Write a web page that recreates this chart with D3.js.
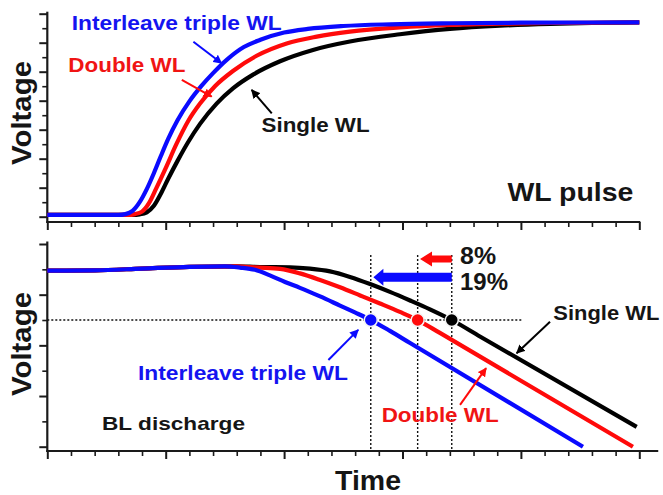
<!DOCTYPE html>
<html><head><meta charset="utf-8">
<script src="https://cdn.jsdelivr.net/npm/d3@7"></script>
<style>
html,body{margin:0;padding:0;background:#fff;}
svg{display:block;}
text{font-family:"Liberation Sans",Arial,Helvetica,sans-serif;font-weight:bold;}
</style></head><body>
<svg id="chart" width="663" height="495"></svg>
<script>
// ---------------- DATA (time in tick units, voltage in tick units) ----------------
const xTickValues = d3.range(0, 26);
const topYTickValues = d3.range(0, 15);
const botYTickValues = d3.range(0, 9);

const seriesNames = ["Single WL", "Double WL", "Interleave triple WL"];

// WL pulse (top panel)
const pulseSingle = [[0,0.12],[3.6,0.12],[3.9,0.16],[4.2,0.3],[4.5,0.75],[4.8,1.6],[5.1,2.6],[5.5,3.85],[5.95,5.15],[6.45,6.4],[7.15,7.8],[7.84,8.85],[8.69,9.8],[9.83,10.72],[11.22,11.5],[12.78,12.08],[14.89,12.58],[17,12.95],[19.12,13.17],[21.23,13.3],[23,13.36],[25,13.4]];
const pulseDouble = [[0,0.12],[3.4,0.12],[3.7,0.18],[4.0,0.35],[4.3,0.95],[4.6,1.95],[5.0,3.35],[5.45,5.0],[5.95,6.6],[6.45,7.8],[7.08,9.0],[7.84,10.05],[8.84,11.1],[10.11,11.95],[11.38,12.42],[12.78,12.76],[14.89,13.05],[17,13.22],[19.12,13.31],[21.23,13.36],[25,13.4]];
const pulseTriple = [[0,0.12],[3.0,0.12],[3.3,0.18],[3.6,0.4],[3.9,1.0],[4.2,1.9],[4.5,3.0],[4.8,4.2],[5.1,5.35],[5.5,6.65],[6.0,7.95],[6.5,9.0],[7.0,9.9],[7.6,10.85],[8.3,11.7],[9.0,12.2],[10.0,12.7],[11.0,12.95],[12.5,13.15],[14.5,13.27],[17,13.34],[20,13.38],[25,13.4]];

// BL discharge (bottom panel)
const blSingle = [[0,6.95],[2,6.96],[4,7.03],[6,7.1],[8,7.12],[8.98,7.09],[10.25,7.08],[11.09,7.03],[11.94,6.92],[12.78,6.7],[13.63,6.42],[14.47,6.11],[15.32,5.77],[16.16,5.42],[17.08,5.0],[18.27,4.35],[24.89,0.78]];
const blDouble = [[0,6.95],[2,6.96],[4,7.03],[6,7.1],[8,7.12],[8.56,7.09],[8.98,7.07],[9.83,7.02],[10.67,6.84],[11.52,6.58],[12.36,6.29],[13.21,5.97],[14.05,5.65],[14.89,5.32],[15.64,5.0],[16.58,4.49],[24.73,0]];
const blTriple = [[0,6.95],[2,6.96],[4,7.03],[6,7.1],[7.5,7.12],[8.14,7.07],[8.77,6.98],[9.4,6.76],[10.04,6.5],[10.67,6.27],[11.52,5.93],[12.36,5.57],[12.99,5.3],[13.66,5.0],[14.47,4.57],[15.32,4.09],[22.62,0]];

const crossLevel = 5.0;
const crossTimes = [17.08, 15.64, 13.66]; // single, double, triple
const reductionLabels = ["8%", "19%"];

// ---------------- LAYOUT ----------------
const svg = d3.select("#chart");
const colors = ["#000000", "#ff0a0a", "#0a0aff"];
const textColors = ["#151515", "#f01414", "#1414f0"];

const x = d3.scaleLinear().domain([0, 25]).range([47.3, 639.3]);
const yTop = d3.scaleLinear().domain([0, 14]).range([216.7, 13.7]);
const yBot = d3.scaleLinear().domain([0, 8]).range([446.7, 244]);

const defs = svg.append("defs");
colors.forEach((c, i) => {
  defs.append("marker").attr("id", "ah" + i)
    .attr("viewBox", "0 0 10 10").attr("refX", 9).attr("refY", 5)
    .attr("markerUnits", "userSpaceOnUse").attr("markerWidth", 9).attr("markerHeight", 9)
    .attr("orient", "auto")
    .append("path").attr("d", "M0,0 L10,5 L0,10 z").attr("fill", c);
});

function drawAxes(y, tickVals, axisY, xEnd, yEndPx) {
  const g = svg.append("g");
  const xa = d3.axisBottom(x).tickValues(xTickValues).tickFormat("").tickSizeOuter(0);
  const gx = g.append("g").attr("transform", `translate(0,${axisY})`).call(xa);
  gx.select(".domain").remove();
  gx.selectAll(".tick line")
    .attr("y2", d => d % 5 === 0 ? 8 : 5)
    .attr("stroke", "#1a1a1a")
    .attr("stroke-width", d => d % 5 === 0 ? 2 : 1.6);
  const ya = d3.axisLeft(y).tickValues(tickVals).tickFormat("").tickSizeOuter(0);
  const gy = g.append("g").attr("transform", `translate(${x(0)},0)`).call(ya);
  gy.select(".domain").remove();
  gy.selectAll(".tick line")
    .attr("x2", d => d % 2 === 0 ? -8 : -5)
    .attr("stroke", "#1a1a1a")
    .attr("stroke-width", d => d % 2 === 0 ? 2 : 1.6);
  g.append("line").attr("x1", x(0) - 1).attr("x2", xEnd).attr("y1", axisY).attr("y2", axisY)
    .attr("stroke", "#1a1a1a").attr("stroke-width", 2.2);
  g.append("line").attr("x1", x(0)).attr("x2", x(0)).attr("y1", axisY + 1).attr("y2", yEndPx)
    .attr("stroke", "#1a1a1a").attr("stroke-width", 2.2);
}

drawAxes(yTop, topYTickValues, yTop(0) + 5.3, x(25) + 1, yTop(14) - 2);
drawAxes(yBot, botYTickValues, yBot(0) + 4.3, x(25.8), yBot(8) - 2.5);

function drawSeries(data, y, i) {
  const line = d3.line().x(d => x(d[0])).y(d => y(d[1])).curve(d3.curveMonotoneX);
  svg.append("path").datum(data).attr("d", line)
    .attr("fill", "none").attr("stroke", colors[i]).attr("stroke-width", 4.2)
    .attr("stroke-linecap", "butt").attr("stroke-linejoin", "round");
}

// dotted guides (bottom)
const dot = "#111";
svg.append("line").attr("x1", x(0)).attr("x2", x(20.03))
  .attr("y1", yBot(crossLevel)).attr("y2", yBot(crossLevel))
  .attr("stroke", dot).attr("stroke-width", 1.4).attr("stroke-dasharray", "2,2");
crossTimes.forEach(t => {
  svg.append("line").attr("x1", x(t)).attr("x2", x(t))
    .attr("y1", yBot(7.57)).attr("y2", yBot(-0.17))
    .attr("stroke", dot).attr("stroke-width", 1.4).attr("stroke-dasharray", "2,2");
});

// curves: black first, then red, then blue
[pulseSingle, pulseDouble, pulseTriple].forEach((d, i) => drawSeries(d, yTop, i));
[blSingle, blDouble, blTriple].forEach((d, i) => drawSeries(d, yBot, i));

// crossing dots
crossTimes.forEach((t, i) => {
  svg.append("circle").attr("cx", x(t)).attr("cy", yBot(crossLevel)).attr("r", 6.5)
    .attr("fill", colors[i]).attr("stroke", "#f4f4f4").attr("stroke-width", 1.5);
});

// big reduction arrows (from single crossing leftwards)
function bigArrow(tTail, tTip, v, body, headLen, headW, color) {
  const xt = x(tTail), xp = x(tTip), yc = yBot(v), xb = xp + headLen;
  const p = d3.path();
  p.moveTo(xt, yc - body / 2); p.lineTo(xb, yc - body / 2); p.lineTo(xb, yc - headW / 2);
  p.lineTo(xp, yc); p.lineTo(xb, yc + headW / 2); p.lineTo(xb, yc + body / 2);
  p.lineTo(xt, yc + body / 2); p.closePath();
  svg.append("path").attr("d", p.toString()).attr("fill", color);
}
bigArrow(crossTimes[0], 15.74, 7.41, 7, 12, 15, colors[1]);
bigArrow(crossTimes[0], 13.77, 6.69, 9, 10, 17, colors[2]);

// pointer arrows
function pointer(y, a, b, i) {
  svg.append("line").attr("x1", x(a[0])).attr("y1", y(a[1])).attr("x2", x(b[0])).attr("y2", y(b[1]))
    .attr("stroke", colors[i]).attr("stroke-width", 2).attr("marker-end", `url(#ah${i})`);
}
pointer(yTop, [9.48, 7.13], [8.63, 8.74], 0);
pointer(yTop, [5.68, 9.43], [6.94, 8.28], 1);
pointer(yTop, [6.17, 12.07], [7.36, 10.58], 2);
pointer(yBot, [21.23, 4.93], [19.82, 3.69], 0);
pointer(yBot, [17.43, 1.65], [18.53, 3.10], 1);
pointer(yBot, [11.87, 3.42], [13.13, 4.61], 2);

// labels
function label(txt, px, py, size, len, color) {
  svg.append("text").attr("x", px).attr("y", py).attr("font-size", size)
    .attr("fill", color).attr("textLength", len).attr("lengthAdjust", "spacingAndGlyphs").text(txt);
}
label(seriesNames[2], x(1.03), yTop(12.88), 21, 210, textColors[2]);
label(seriesNames[1], x(0.89), yTop(10.0), 21, 117, textColors[1]);
label(seriesNames[0], x(9.05), yTop(5.86), 21, 108, textColors[0]);
label("WL pulse", x(19.43), yTop(1.10), 26, 126, textColors[0]);

label(seriesNames[2], x(3.83), yBot(2.63), 21, 210, textColors[2]);
label(seriesNames[1], x(14.12), yBot(0.99), 21, 117, textColors[1]);
label(seriesNames[0], x(21.37), yBot(5.0), 21, 106, textColors[0]);
label("BL discharge", x(2.31), yBot(0.66), 19, 143, textColors[0]);
label(reductionLabels[0], x(17.43), yBot(7.21), 24, 36, textColors[0]);
label(reductionLabels[1], x(17.43), yBot(6.19), 24, 48, textColors[0]);

// axis titles
function ytitle(cy) {
  svg.append("text").attr("transform", `translate(31,${cy}) rotate(-90)`)
    .attr("text-anchor", "middle").attr("font-size", 28).attr("fill", "#151515")
    .attr("textLength", 104).attr("lengthAdjust", "spacingAndGlyphs").text("Voltage");
}
ytitle(113);
ytitle(344);
svg.append("text").attr("x", 368).attr("y", 490).attr("text-anchor", "middle")
  .attr("font-size", 28).attr("fill", "#151515").attr("textLength", 66)
  .attr("lengthAdjust", "spacingAndGlyphs").text("Time");
</script>
</body></html>
